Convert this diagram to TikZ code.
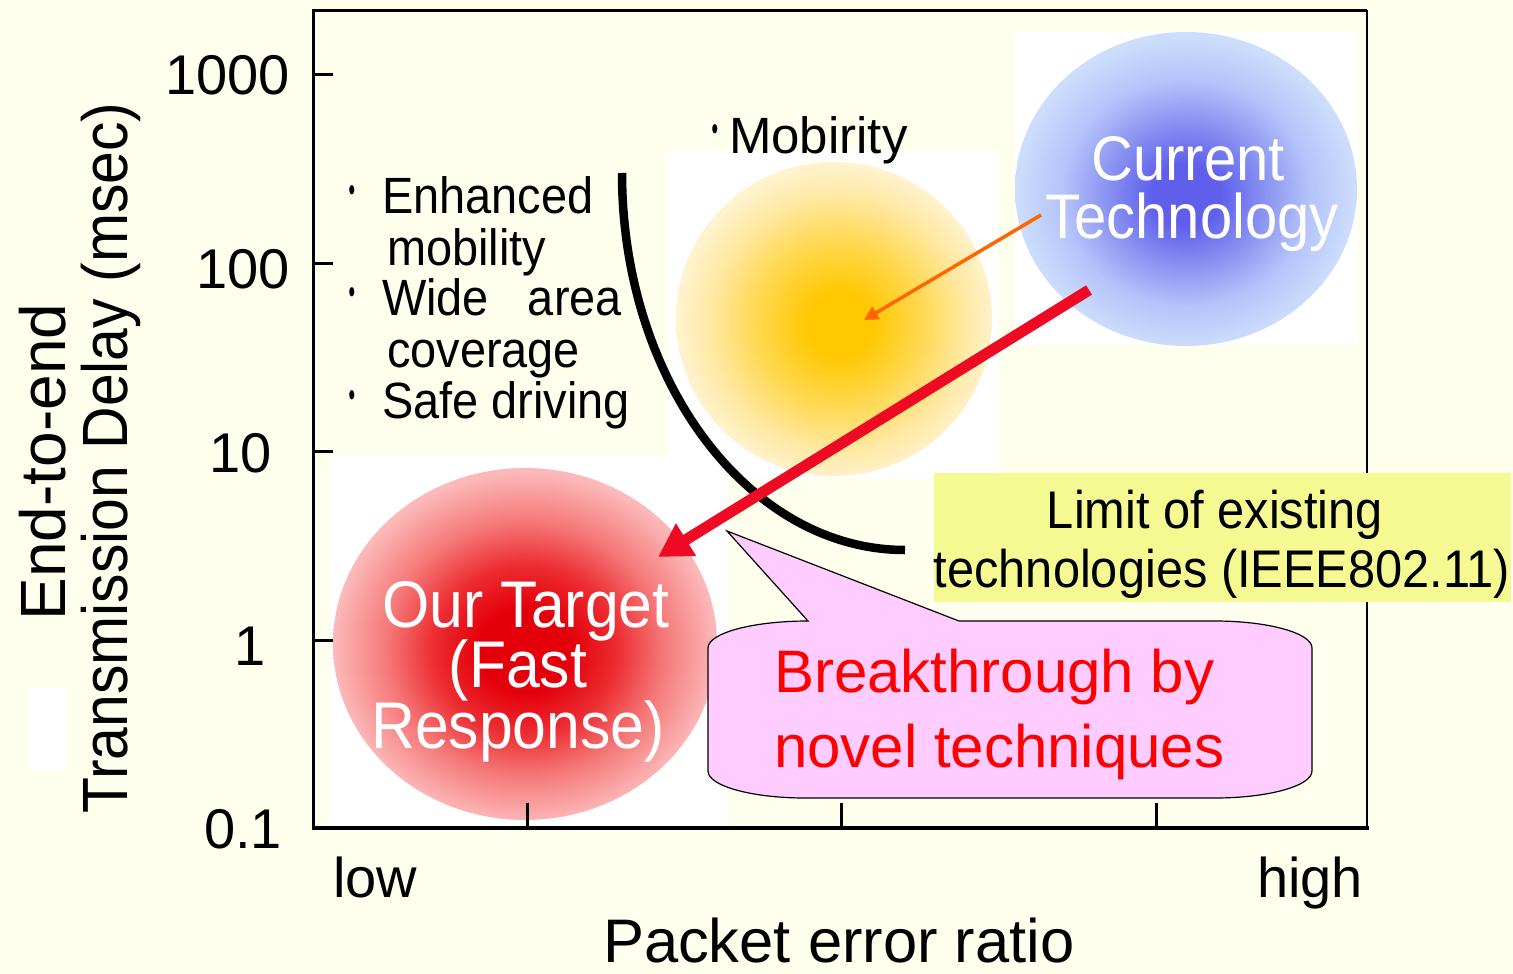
\documentclass[tikz,border=0pt]{standalone}
\usepackage{fontspec}
\setmainfont{Liberation Sans}
\newfontfamily\narrowfont{Liberation Sans}[FakeStretch=0.92]
\newfontfamily\dotfont{Liberation Sans}[FakeStretch=0.55]
\usetikzlibrary{arrows.meta}

% palette
\definecolor{paper}{RGB}{255,255,238}
\definecolor{calloutpink}{RGB}{255,204,255}
\definecolor{limitbox}{RGB}{245,249,145}
\definecolor{arrowred}{RGB}{238,10,34}
\definecolor{arroworange}{RGB}{255,102,0}
\definecolor{textred}{RGB}{255,0,0}

% glow colours
\definecolor{sunA}{RGB}{255,200,0}
\definecolor{sunB}{RGB}{255,218,90}
\definecolor{sunC}{RGB}{255,232,160}
\definecolor{sunD}{RGB}{255,242,205}
\definecolor{fireA}{RGB}{228,0,10}
\definecolor{fireB}{RGB}{236,45,50}
\definecolor{fireC}{RGB}{245,120,120}
\definecolor{fireD}{RGB}{252,185,185}
\definecolor{skyA}{RGB}{95,95,235}
\definecolor{skyB}{RGB}{140,150,242}
\definecolor{skyC}{RGB}{180,195,250}
\definecolor{skyD}{RGB}{205,222,252}

% radial glows: the path fills the middle 50bp, so 25bp is the rim
\pgfdeclareradialshading{sunglow}{\pgfpoint{1bp}{-1bp}}{%
  color(0bp)=(sunA); color(5bp)=(sunA); color(14bp)=(sunB);
  color(20bp)=(sunC); color(25bp)=(sunD); color(50bp)=(sunD)}
\pgfdeclareradialshading{fireglow}{\pgfpoint{0bp}{-1bp}}{%
  color(0bp)=(fireA); color(6bp)=(fireA); color(12bp)=(fireB);
  color(18bp)=(fireC); color(25bp)=(fireD); color(50bp)=(fireD)}
\pgfdeclareradialshading{skyglow}{\pgfpoint{0bp}{-1bp}}{%
  color(0bp)=(skyA); color(5bp)=(skyA); color(12bp)=(skyB);
  color(18bp)=(skyC); color(25bp)=(skyD); color(50bp)=(skyD)}

\tikzset{
  axisline/.style={line width=3.5pt},
  thinaxis/.style={line width=2.5pt},
  tickmark/.style={line width=3pt},
  lbl/.style={inner sep=0pt, outer sep=0pt},
  listtext/.style={lbl, anchor=base west, font=\narrowfont\fontsize{51}{51}\selectfont},
  bulletdot/.style={lbl, anchor=center, font=\dotfont\fontsize{34}{34}\selectfont},
  ticklabel/.style={lbl, anchor=base, font=\fontsize{56}{56}\selectfont},
  xlabel/.style={lbl, anchor=base west, font=\fontsize{56}{56}\selectfont},
  bubbletext/.style={lbl, anchor=base, text=white, font=\narrowfont\fontsize{66}{66}\selectfont},
  techtext/.style={lbl, anchor=base, text=white, font=\narrowfont\fontsize{63}{63}\selectfont},
  limittext/.style={lbl, anchor=base, font=\narrowfont\fontsize{53}{53}\selectfont},
  callouttext/.style={lbl, anchor=base west, text=textred, font=\fontsize{60}{60}\selectfont},
  bigarrow/.style={arrowred, line width=11pt, -{Triangle[length=33pt,width=36pt]}},
  smallarrow/.style={arroworange, line width=3.5pt, -{Triangle[length=14pt,width=14pt]}},
}

\begin{document}
\begin{tikzpicture}[x=1pt,y=-1pt]
\useasboundingbox (0,0) rectangle (1513,974);
\fill[paper] (0,0) rectangle (1513,974);

% white backdrops behind the three glows and beside the axis title
\fill[white] (330,455) rectangle (728,828);
\fill[white] (668,150) rectangle (998,478);
\fill[white] (1015,32) rectangle (1357,345);
\fill[white] (29,688) rectangle (66,770);

% the three regions
\shade[shading=sunglow] (834,319) ellipse [x radius=158, y radius=157];
\shade[shading=skyglow] (1186,189) ellipse [x radius=171, y radius=157];
\shade[shading=fireglow] (525,644) ellipse [x radius=192, y radius=176];

% plot frame and ticks
\draw[thinaxis] (313,10.5) -- (1367,10.5);
\draw[thinaxis] (1367,10.5) -- (1367,828);
\draw[axisline] (313.5,9) -- (313.5,830);
\draw[axisline] (312,828) -- (1369,828);
\foreach \yy in {75,263,451,640} \draw[tickmark] (313,\yy) -- (333,\yy);
\foreach \xx in {527,841,1156} \draw[tickmark] (\xx,828) -- (\xx,803);

% limit curve of existing technologies
\draw[line width=8.5pt] (622,173) .. controls (622,381) and (749,550) .. (905,550);

% axis numbers and titles
\node[lbl, anchor=base east, font=\fontsize{56}{56}\selectfont] (t1000) at (290,95) {1000};
\node[ticklabel] (t100) at (243,288) {100};
\node[ticklabel] (t10) at (241,472) {10};
\node[ticklabel] (t1) at (250,665) {1};
\node[ticklabel] (t01) at (243,848) {0.1};
\node[lbl, anchor=base, rotate=90, font=\fontsize{64}{64}\selectfont] (ytitleA) at (65,462) {End-to-end};
\node[lbl, anchor=base, rotate=90, font=\narrowfont\fontsize{64}{64}\selectfont] (ytitleB) at (127,458) {Transmission Delay (msec)};
\node[xlabel] (xlow) at (333,897) {low};
\node[xlabel] (xhigh) at (1257,897) {high};
\node[lbl, anchor=base west, font=\fontsize{61.5}{61.5}\selectfont] (xtitle) at (603,962) {Packet error ratio};

% requirement list
\node[bulletdot] (b1) at (352,194) {•};
\node[bulletdot] (b2) at (352,296) {•};
\node[bulletdot] (b3) at (352,399) {•};
\node[listtext] (l1) at (382,213) {Enhanced};
\node[listtext] (l2) at (387,265) {mobility};
\node[listtext] (l3) at (382,315) {Wide~~~area};
\node[listtext] (l4) at (387,367) {coverage};
\node[listtext] (l5) at (382,418) {Safe driving};
\node[bulletdot] (b4) at (715,133) {•};
\node[lbl, anchor=base west, font=\fontsize{51}{51}\selectfont] (mob) at (729,153) {Mobirity};

% region labels
\node[techtext] (cur1) at (1188,180) {Current};
\node[techtext] (cur2) at (1192,238) {Technology};
\node[bubbletext] (our1) at (526,627) {Our Target};
\node[bubbletext] (our2) at (518,687) {(Fast};
\node[bubbletext] (our3) at (518,748) {Response)};

% limit label
\fill[limitbox] (934,473) rectangle (1511,602);
\node[limittext] (lim1) at (1215,528) {Limit of~existing};
\node[limittext] (lim2) at (1222,587) {technologies (IEEE802.11)};

% arrows out of the current technology
\coordinate (curA) at (1041,215);
\coordinate (sunTip) at (864,320);
\coordinate (curB) at (1089,290);
\coordinate (fireTip) at (658,557);
\draw[smallarrow] (curA) -- (sunTip);
\draw[bigarrow] (curB) -- (fireTip);

% breakthrough callout
\coordinate (calloutTip) at (727,531);
\filldraw[fill=calloutpink, draw=black, line width=1.2pt]
  (808,621) -- (calloutTip) -- (959,621) -- (1215,621)
  .. controls (1268,621) and (1312,633) .. (1312,648)
  -- (1312,771)
  .. controls (1312,786) and (1268,798) .. (1215,798)
  -- (805,798)
  .. controls (752,798) and (708,786) .. (708,771)
  -- (708,648)
  .. controls (708,633) and (753,621) .. (808,621) -- cycle;
\node[callouttext] (brk1) at (774,692) {Breakthrough by};
\node[callouttext] (brk2) at (774,767) {novel techniques};
\end{tikzpicture}
\end{document}
